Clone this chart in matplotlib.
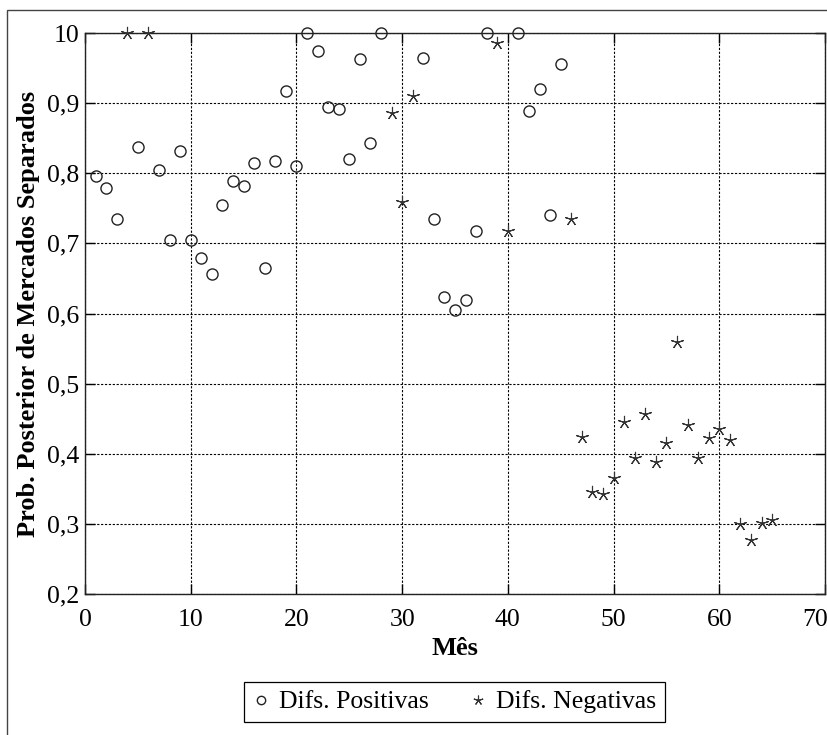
import matplotlib
matplotlib.use("Agg")
import matplotlib.pyplot as plt
import matplotlib.transforms as mtransforms
from matplotlib.patches import Rectangle
from matplotlib.lines import Line2D

plt.rcParams['font.family'] = ['Liberation Serif', 'DejaVu Serif']

# Difs. Positivas (circles)
pos_month = [1, 2, 3, 5, 7, 8, 9, 10, 11, 12, 13, 14, 15, 16, 17, 18, 19, 20,
             21, 22, 23, 24, 25, 26, 27, 28, 32, 33, 34, 35, 36, 37, 38, 41,
             42, 43, 44, 45]
pos_prob = [0.796, 0.779, 0.735, 0.838, 0.805, 0.705, 0.832, 0.705, 0.679,
            0.657, 0.755, 0.789, 0.782, 0.815, 0.665, 0.818, 0.918, 0.811,
            1.0, 0.975, 0.894, 0.891, 0.820, 0.963, 0.843, 1.0, 0.964, 0.735,
            0.624, 0.605, 0.619, 0.717, 1.0, 1.0, 0.889, 0.920, 0.741, 0.956]

# Difs. Negativas (stars)
neg_month = [4, 6, 29, 30, 31, 39, 40, 46, 47, 48, 49, 50, 51, 52, 53, 54, 55,
             56, 57, 58, 59, 60, 61, 62, 63, 64, 65]
neg_prob = [1.0, 1.0, 0.886, 0.759, 0.910, 0.986, 0.717, 0.735, 0.424, 0.345,
            0.342, 0.366, 0.445, 0.394, 0.457, 0.388, 0.415, 0.559, 0.441,
            0.394, 0.423, 0.435, 0.419, 0.300, 0.277, 0.301, 0.305]

xticks = [0, 10, 20, 30, 40, 50, 60, 70]
yticks = [0.2, 0.3, 0.4, 0.5, 0.6, 0.7, 0.8, 0.9, 1.0]
ytick_labels = ['0,2', '0,3', '0,4', '0,5', '0,6', '0,7', '0,8', '0,9', '10']

W, H = 828, 735
fig = plt.figure(figsize=(W / 100, H / 100), dpi=100)
fig.patch.set_facecolor('white')

# outer frame (partly cut at the right/bottom edges)
fig.patches.append(Rectangle((7 / W, -0.05), 1.2, 1 - 10 / H + 0.05,
                             transform=fig.transFigure, fill=False,
                             edgecolor='#444444', lw=1.0))

ax = fig.add_axes([85 / W, 1 - 594 / H, (825 - 85) / W, (594 - 33) / H])
ax.set_xlim(0, 70)
ax.set_ylim(0.2, 1.0)
ax.set_xticks(xticks)
ax.set_yticks(yticks)
ax.set_yticklabels(ytick_labels)
ax.grid(True, color='black', linestyle=(0, (2, 1.5)), lw=0.8)
ax.set_axisbelow(True)
ax.tick_params(direction='in', length=7, width=1.0, top=True, right=True,
               labelsize=18.5, colors='black')
ax.tick_params(axis='x', pad=11)
ax.tick_params(axis='y', pad=4)
for s in ax.spines.values():
    s.set_linewidth(1.0)
    s.set_color('#222222')

# keep the last x tick label inside the picture, as in the reference
last = ax.get_xticklabels()[-1]
last.set_transform(last.get_transform() +
                   mtransforms.ScaledTranslation(-10 / 100, 0, fig.dpi_scale_trans))

ax.plot(pos_month, pos_prob, linestyle='none', marker='o', markersize=8,
        markerfacecolor='none', markeredgecolor='#222222', markeredgewidth=1.0,
        clip_on=False, zorder=3)
ax.plot(neg_month, neg_prob, linestyle='none', marker=(5, 2, 0), markersize=9.5,
        markeredgecolor='#333333', markeredgewidth=0.8, clip_on=False, zorder=3)

ax.set_xlabel('Mês', fontsize=19, fontweight='bold', labelpad=4)
ax.set_ylabel('Prob. Posterior de Mercados Separados', fontsize=19,
              fontweight='bold', labelpad=5)

handles = [
    Line2D([], [], linestyle='none', marker='o', markersize=6,
           markerfacecolor='none', markeredgecolor='#222222', markeredgewidth=1.0),
    Line2D([], [], linestyle='none', marker=(5, 2, 0), markersize=7,
           markeredgecolor='#333333', markeredgewidth=0.8),
]
leg = fig.legend(handles, ['Difs. Positivas', 'Difs. Negativas'], ncol=2,
                 loc='center', bbox_to_anchor=(454.5 / W, 1 - 702 / H),
                 fontsize=18.5, frameon=True, fancybox=False, framealpha=1,
                 edgecolor='black', handlelength=0.6, handletextpad=0.4,
                 columnspacing=1.6, borderpad=0.35)
leg.get_frame().set_linewidth(0.9)

fig.savefig('out.png', dpi=100)
